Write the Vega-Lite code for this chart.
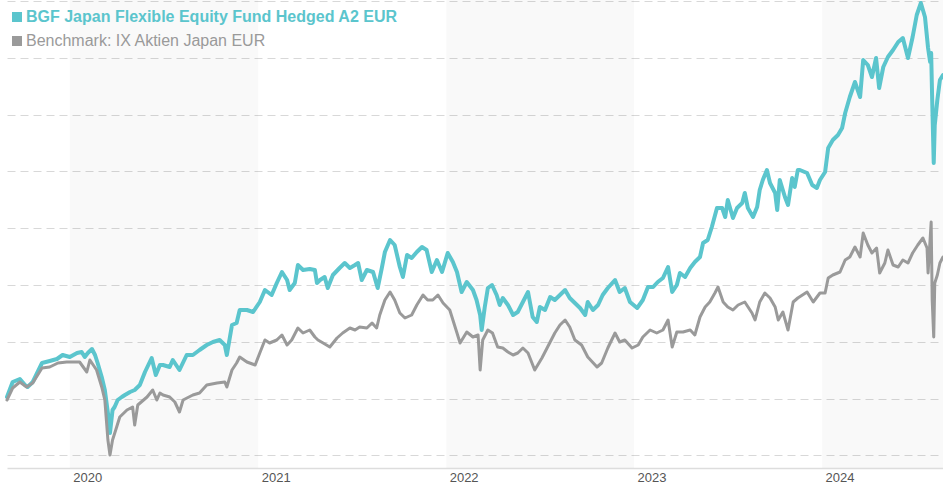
{
  "$schema": "https://vega.github.io/schema/vega-lite/v6.json",
  "width": 936,
  "height": 468,
  "autosize": {"type": "none"},
  "padding": {"left": 7, "top": 0, "right": 0, "bottom": 19},
  "background": "white",
  "config": {"view": {"stroke": null}, "font": "Liberation Sans"},
  "datasets": {
    "bands": [
      {"start": "2020-01-01", "end": "2021-01-01"},
      {"start": "2022-01-01", "end": "2023-01-01"},
      {"start": "2024-01-01", "end": "2025-01-01"}
    ],
    "fund": [
      {"d": "2019-09-01", "v": 71}, {"d": "2019-09-12", "v": 86}, {"d": "2019-09-26", "v": 89}, {"d": "2019-10-06", "v": 83},
      {"d": "2019-10-11", "v": 81}, {"d": "2019-10-21", "v": 86}, {"d": "2019-11-08", "v": 105}, {"d": "2019-11-23", "v": 107},
      {"d": "2019-12-07", "v": 109}, {"d": "2019-12-18", "v": 113}, {"d": "2020-01-01", "v": 111}, {"d": "2020-01-15", "v": 115},
      {"d": "2020-01-24", "v": 116}, {"d": "2020-01-30", "v": 111}, {"d": "2020-02-05", "v": 115}, {"d": "2020-02-13", "v": 119},
      {"d": "2020-02-19", "v": 113}, {"d": "2020-02-24", "v": 105}, {"d": "2020-03-03", "v": 91}, {"d": "2020-03-09", "v": 78},
      {"d": "2020-03-15", "v": 55}, {"d": "2020-03-19", "v": 35}, {"d": "2020-03-24", "v": 58}, {"d": "2020-03-28", "v": 61},
      {"d": "2020-04-03", "v": 68}, {"d": "2020-04-11", "v": 71}, {"d": "2020-04-17", "v": 73}, {"d": "2020-04-27", "v": 76},
      {"d": "2020-05-06", "v": 78}, {"d": "2020-05-16", "v": 83}, {"d": "2020-05-26", "v": 96}, {"d": "2020-06-08", "v": 110},
      {"d": "2020-06-16", "v": 93}, {"d": "2020-06-24", "v": 103}, {"d": "2020-06-30", "v": 103}, {"d": "2020-07-13", "v": 101},
      {"d": "2020-07-19", "v": 108}, {"d": "2020-08-01", "v": 98}, {"d": "2020-08-15", "v": 113}, {"d": "2020-08-27", "v": 113},
      {"d": "2020-09-09", "v": 118}, {"d": "2020-09-23", "v": 123}, {"d": "2020-10-05", "v": 126}, {"d": "2020-10-18", "v": 128},
      {"d": "2020-10-28", "v": 123}, {"d": "2020-11-01", "v": 113}, {"d": "2020-11-11", "v": 143}, {"d": "2020-11-20", "v": 145},
      {"d": "2020-11-26", "v": 158}, {"d": "2020-12-10", "v": 158}, {"d": "2020-12-22", "v": 156}, {"d": "2021-01-04", "v": 166},
      {"d": "2021-01-14", "v": 178}, {"d": "2021-01-27", "v": 173}, {"d": "2021-02-06", "v": 185}, {"d": "2021-02-16", "v": 196},
      {"d": "2021-02-26", "v": 188}, {"d": "2021-03-03", "v": 178}, {"d": "2021-03-13", "v": 185}, {"d": "2021-03-19", "v": 203},
      {"d": "2021-03-29", "v": 198}, {"d": "2021-04-11", "v": 199}, {"d": "2021-04-21", "v": 198}, {"d": "2021-04-25", "v": 185},
      {"d": "2021-05-01", "v": 188}, {"d": "2021-05-10", "v": 191}, {"d": "2021-05-16", "v": 180}, {"d": "2021-05-26", "v": 193},
      {"d": "2021-06-08", "v": 200}, {"d": "2021-06-18", "v": 205}, {"d": "2021-06-28", "v": 200}, {"d": "2021-07-08", "v": 203},
      {"d": "2021-07-14", "v": 205}, {"d": "2021-07-21", "v": 188}, {"d": "2021-07-31", "v": 198}, {"d": "2021-08-12", "v": 196},
      {"d": "2021-08-21", "v": 180}, {"d": "2021-08-29", "v": 200}, {"d": "2021-09-04", "v": 216}, {"d": "2021-09-14", "v": 228},
      {"d": "2021-09-23", "v": 223}, {"d": "2021-10-03", "v": 201}, {"d": "2021-10-09", "v": 191}, {"d": "2021-10-17", "v": 213},
      {"d": "2021-10-26", "v": 210}, {"d": "2021-11-05", "v": 216}, {"d": "2021-11-15", "v": 221}, {"d": "2021-11-24", "v": 218},
      {"d": "2021-12-04", "v": 196}, {"d": "2021-12-14", "v": 208}, {"d": "2021-12-24", "v": 196}, {"d": "2022-01-04", "v": 215},
      {"d": "2022-01-14", "v": 206}, {"d": "2022-01-22", "v": 196}, {"d": "2022-01-31", "v": 176}, {"d": "2022-02-10", "v": 186},
      {"d": "2022-02-22", "v": 178}, {"d": "2022-03-01", "v": 168}, {"d": "2022-03-08", "v": 153}, {"d": "2022-03-11", "v": 138},
      {"d": "2022-03-17", "v": 161}, {"d": "2022-03-23", "v": 180}, {"d": "2022-03-31", "v": 183}, {"d": "2022-04-09", "v": 173},
      {"d": "2022-04-15", "v": 163}, {"d": "2022-04-21", "v": 170}, {"d": "2022-05-01", "v": 163}, {"d": "2022-05-11", "v": 153},
      {"d": "2022-05-20", "v": 156}, {"d": "2022-05-30", "v": 166}, {"d": "2022-06-09", "v": 176}, {"d": "2022-06-18", "v": 151},
      {"d": "2022-06-26", "v": 146}, {"d": "2022-07-02", "v": 161}, {"d": "2022-07-12", "v": 158}, {"d": "2022-07-22", "v": 171},
      {"d": "2022-07-31", "v": 168}, {"d": "2022-08-10", "v": 173}, {"d": "2022-08-20", "v": 178}, {"d": "2022-08-29", "v": 170},
      {"d": "2022-09-08", "v": 165}, {"d": "2022-09-18", "v": 160}, {"d": "2022-09-28", "v": 153}, {"d": "2022-10-03", "v": 166},
      {"d": "2022-10-13", "v": 158}, {"d": "2022-10-23", "v": 163}, {"d": "2022-11-01", "v": 173}, {"d": "2022-11-11", "v": 180},
      {"d": "2022-11-25", "v": 188}, {"d": "2022-12-04", "v": 176}, {"d": "2022-12-14", "v": 180}, {"d": "2022-12-24", "v": 166},
      {"d": "2023-01-07", "v": 160}, {"d": "2023-01-18", "v": 168}, {"d": "2023-01-28", "v": 181}, {"d": "2023-02-07", "v": 181},
      {"d": "2023-02-16", "v": 186}, {"d": "2023-02-26", "v": 190}, {"d": "2023-03-08", "v": 201}, {"d": "2023-03-16", "v": 176},
      {"d": "2023-03-25", "v": 183}, {"d": "2023-03-31", "v": 195}, {"d": "2023-04-10", "v": 191}, {"d": "2023-04-20", "v": 200},
      {"d": "2023-04-29", "v": 206}, {"d": "2023-05-09", "v": 211}, {"d": "2023-05-15", "v": 225}, {"d": "2023-05-24", "v": 228},
      {"d": "2023-06-01", "v": 241}, {"d": "2023-06-11", "v": 260}, {"d": "2023-06-21", "v": 260}, {"d": "2023-06-27", "v": 251},
      {"d": "2023-07-02", "v": 268}, {"d": "2023-07-12", "v": 250}, {"d": "2023-07-20", "v": 260}, {"d": "2023-07-30", "v": 265},
      {"d": "2023-08-04", "v": 275}, {"d": "2023-08-10", "v": 260}, {"d": "2023-08-20", "v": 251}, {"d": "2023-08-28", "v": 261},
      {"d": "2023-09-02", "v": 278}, {"d": "2023-09-08", "v": 288}, {"d": "2023-09-16", "v": 298}, {"d": "2023-09-22", "v": 285},
      {"d": "2023-10-02", "v": 275}, {"d": "2023-10-06", "v": 258}, {"d": "2023-10-11", "v": 288}, {"d": "2023-10-21", "v": 271},
      {"d": "2023-10-27", "v": 263}, {"d": "2023-11-04", "v": 290}, {"d": "2023-11-09", "v": 281}, {"d": "2023-11-15", "v": 298},
      {"d": "2023-11-19", "v": 298}, {"d": "2023-12-03", "v": 295}, {"d": "2023-12-13", "v": 283}, {"d": "2023-12-22", "v": 280},
      {"d": "2023-12-28", "v": 288}, {"d": "2024-01-07", "v": 296}, {"d": "2024-01-13", "v": 320}, {"d": "2024-01-22", "v": 328},
      {"d": "2024-02-01", "v": 333}, {"d": "2024-02-09", "v": 340}, {"d": "2024-02-15", "v": 355}, {"d": "2024-02-24", "v": 371},
      {"d": "2024-03-05", "v": 386}, {"d": "2024-03-15", "v": 371}, {"d": "2024-03-21", "v": 408}, {"d": "2024-03-30", "v": 403},
      {"d": "2024-04-07", "v": 391}, {"d": "2024-04-15", "v": 410}, {"d": "2024-04-21", "v": 380}, {"d": "2024-04-29", "v": 401},
      {"d": "2024-05-08", "v": 411}, {"d": "2024-05-18", "v": 418}, {"d": "2024-05-28", "v": 426}, {"d": "2024-06-06", "v": 430},
      {"d": "2024-06-16", "v": 410}, {"d": "2024-06-25", "v": 431}, {"d": "2024-07-03", "v": 453}, {"d": "2024-07-11", "v": 465},
      {"d": "2024-07-19", "v": 451}, {"d": "2024-07-25", "v": 420}, {"d": "2024-07-29", "v": 406}, {"d": "2024-07-31", "v": 415},
      {"d": "2024-08-02", "v": 368}, {"d": "2024-08-05", "v": 305}, {"d": "2024-08-07", "v": 343}, {"d": "2024-08-12", "v": 368},
      {"d": "2024-08-17", "v": 388}, {"d": "2024-08-23", "v": 393}
    ],
    "bench": [
      {"d": "2019-09-01", "v": 68}, {"d": "2019-09-12", "v": 80}, {"d": "2019-09-26", "v": 86}, {"d": "2019-10-09", "v": 81},
      {"d": "2019-10-21", "v": 85}, {"d": "2019-11-08", "v": 100}, {"d": "2019-11-23", "v": 101}, {"d": "2019-12-09", "v": 105},
      {"d": "2019-12-26", "v": 106}, {"d": "2020-01-07", "v": 106}, {"d": "2020-01-20", "v": 106}, {"d": "2020-02-03", "v": 96},
      {"d": "2020-02-09", "v": 108}, {"d": "2020-02-22", "v": 98}, {"d": "2020-03-03", "v": 81}, {"d": "2020-03-09", "v": 68},
      {"d": "2020-03-15", "v": 28}, {"d": "2020-03-19", "v": 13}, {"d": "2020-03-24", "v": 28}, {"d": "2020-04-01", "v": 41},
      {"d": "2020-04-07", "v": 51}, {"d": "2020-04-21", "v": 58}, {"d": "2020-05-02", "v": 61}, {"d": "2020-05-06", "v": 43},
      {"d": "2020-05-12", "v": 63}, {"d": "2020-05-30", "v": 71}, {"d": "2020-06-10", "v": 78}, {"d": "2020-06-18", "v": 68},
      {"d": "2020-06-24", "v": 75}, {"d": "2020-06-30", "v": 73}, {"d": "2020-07-13", "v": 71}, {"d": "2020-07-23", "v": 66},
      {"d": "2020-08-01", "v": 56}, {"d": "2020-08-08", "v": 68}, {"d": "2020-08-27", "v": 73}, {"d": "2020-09-09", "v": 75},
      {"d": "2020-09-23", "v": 83}, {"d": "2020-10-13", "v": 85}, {"d": "2020-10-28", "v": 86}, {"d": "2020-11-01", "v": 81},
      {"d": "2020-11-11", "v": 98}, {"d": "2020-11-20", "v": 105}, {"d": "2020-11-26", "v": 111}, {"d": "2020-12-10", "v": 106},
      {"d": "2020-12-26", "v": 103}, {"d": "2021-01-04", "v": 115}, {"d": "2021-01-14", "v": 128}, {"d": "2021-01-23", "v": 125},
      {"d": "2021-02-06", "v": 128}, {"d": "2021-02-16", "v": 133}, {"d": "2021-02-26", "v": 123}, {"d": "2021-03-07", "v": 128},
      {"d": "2021-03-19", "v": 140}, {"d": "2021-03-29", "v": 135}, {"d": "2021-04-11", "v": 138}, {"d": "2021-04-21", "v": 131},
      {"d": "2021-04-27", "v": 128}, {"d": "2021-05-07", "v": 125}, {"d": "2021-05-20", "v": 121}, {"d": "2021-06-03", "v": 130},
      {"d": "2021-06-14", "v": 135}, {"d": "2021-06-28", "v": 140}, {"d": "2021-07-08", "v": 138}, {"d": "2021-07-17", "v": 141},
      {"d": "2021-07-31", "v": 140}, {"d": "2021-08-10", "v": 145}, {"d": "2021-08-19", "v": 140}, {"d": "2021-08-25", "v": 153},
      {"d": "2021-09-04", "v": 168}, {"d": "2021-09-14", "v": 176}, {"d": "2021-09-23", "v": 168}, {"d": "2021-10-03", "v": 155},
      {"d": "2021-10-13", "v": 150}, {"d": "2021-10-26", "v": 153}, {"d": "2021-11-05", "v": 163}, {"d": "2021-11-17", "v": 173},
      {"d": "2021-11-26", "v": 168}, {"d": "2021-12-06", "v": 168}, {"d": "2021-12-16", "v": 173}, {"d": "2021-12-26", "v": 165},
      {"d": "2022-01-08", "v": 158}, {"d": "2022-01-22", "v": 135}, {"d": "2022-01-28", "v": 125}, {"d": "2022-02-10", "v": 136},
      {"d": "2022-02-22", "v": 131}, {"d": "2022-03-04", "v": 133}, {"d": "2022-03-08", "v": 98}, {"d": "2022-03-13", "v": 128},
      {"d": "2022-03-23", "v": 138}, {"d": "2022-04-01", "v": 135}, {"d": "2022-04-11", "v": 121}, {"d": "2022-04-21", "v": 120},
      {"d": "2022-05-01", "v": 116}, {"d": "2022-05-11", "v": 113}, {"d": "2022-05-20", "v": 115}, {"d": "2022-05-30", "v": 120},
      {"d": "2022-06-09", "v": 115}, {"d": "2022-06-22", "v": 98}, {"d": "2022-07-06", "v": 110}, {"d": "2022-07-17", "v": 121},
      {"d": "2022-07-31", "v": 135}, {"d": "2022-08-10", "v": 143}, {"d": "2022-08-20", "v": 148}, {"d": "2022-08-29", "v": 141},
      {"d": "2022-09-08", "v": 128}, {"d": "2022-09-21", "v": 123}, {"d": "2022-10-03", "v": 111}, {"d": "2022-10-21", "v": 101},
      {"d": "2022-10-30", "v": 105}, {"d": "2022-11-11", "v": 120}, {"d": "2022-11-25", "v": 135}, {"d": "2022-12-04", "v": 126},
      {"d": "2022-12-14", "v": 128}, {"d": "2022-12-28", "v": 120}, {"d": "2023-01-09", "v": 123}, {"d": "2023-01-18", "v": 131},
      {"d": "2023-02-01", "v": 138}, {"d": "2023-02-14", "v": 135}, {"d": "2023-02-26", "v": 138}, {"d": "2023-03-08", "v": 148},
      {"d": "2023-03-16", "v": 121}, {"d": "2023-03-25", "v": 136}, {"d": "2023-04-06", "v": 136}, {"d": "2023-04-20", "v": 138},
      {"d": "2023-04-29", "v": 133}, {"d": "2023-05-09", "v": 151}, {"d": "2023-05-19", "v": 161}, {"d": "2023-05-28", "v": 166},
      {"d": "2023-06-07", "v": 175}, {"d": "2023-06-13", "v": 181}, {"d": "2023-06-23", "v": 166}, {"d": "2023-07-02", "v": 161},
      {"d": "2023-07-12", "v": 158}, {"d": "2023-07-22", "v": 163}, {"d": "2023-08-04", "v": 166}, {"d": "2023-08-18", "v": 155},
      {"d": "2023-08-24", "v": 148}, {"d": "2023-09-02", "v": 166}, {"d": "2023-09-12", "v": 175}, {"d": "2023-09-22", "v": 170},
      {"d": "2023-10-02", "v": 161}, {"d": "2023-10-08", "v": 148}, {"d": "2023-10-17", "v": 156}, {"d": "2023-10-27", "v": 138},
      {"d": "2023-11-06", "v": 166}, {"d": "2023-11-15", "v": 170}, {"d": "2023-12-03", "v": 176}, {"d": "2023-12-15", "v": 166},
      {"d": "2023-12-28", "v": 175}, {"d": "2024-01-07", "v": 175}, {"d": "2024-01-13", "v": 190}, {"d": "2024-01-22", "v": 193},
      {"d": "2024-02-05", "v": 196}, {"d": "2024-02-15", "v": 208}, {"d": "2024-02-24", "v": 211}, {"d": "2024-03-05", "v": 221},
      {"d": "2024-03-15", "v": 211}, {"d": "2024-03-21", "v": 235}, {"d": "2024-03-30", "v": 223}, {"d": "2024-04-07", "v": 215},
      {"d": "2024-04-16", "v": 220}, {"d": "2024-04-22", "v": 195}, {"d": "2024-05-02", "v": 205}, {"d": "2024-05-08", "v": 218},
      {"d": "2024-05-18", "v": 203}, {"d": "2024-05-28", "v": 201}, {"d": "2024-06-06", "v": 208}, {"d": "2024-06-16", "v": 205},
      {"d": "2024-06-25", "v": 215}, {"d": "2024-07-05", "v": 223}, {"d": "2024-07-15", "v": 230}, {"d": "2024-07-23", "v": 220},
      {"d": "2024-07-25", "v": 195}, {"d": "2024-07-31", "v": 246}, {"d": "2024-08-02", "v": 168}, {"d": "2024-08-05", "v": 131},
      {"d": "2024-08-07", "v": 185}, {"d": "2024-08-12", "v": 193}, {"d": "2024-08-17", "v": 205}, {"d": "2024-08-23", "v": 211}
    ]
  },
  "layer": [
    {
      "data": {"name": "bands"},
      "mark": {"type": "rect", "fill": "#000000", "fillOpacity": 0.025, "clip": true},
      "encoding": {
        "x": {
          "field": "start", "type": "temporal",
          "scale": {"type": "utc", "domain": [{"year": 2019, "month": 9, "date": 1, "utc": true}, {"year": 2024, "month": 8, "date": 23, "utc": true}]},
          "axis": {
            "title": null, "grid": false, "ticks": false,
            "values": [{"year": 2020, "utc": true}, {"year": 2021, "utc": true}, {"year": 2022, "utc": true}, {"year": 2023, "utc": true}, {"year": 2024, "utc": true}],
            "format": "%Y", "labelAlign": "left", "labelOffset": 3, "labelPadding": 3,
            "labelFontSize": 13, "labelColor": "#555555", "labelFont": "Liberation Sans",
            "domainColor": "#dddddd", "domainWidth": 1.5
          }
        },
        "x2": {"field": "end"}
      }
    },
    {
      "data": {"name": "fund"},
      "mark": {"type": "line", "strokeWidth": 4, "strokeJoin": "round", "strokeCap": "round"},
      "encoding": {
        "x": {"field": "d", "type": "temporal"},
        "y": {
          "field": "v", "type": "quantitative",
          "scale": {"domain": [0, 468], "nice": false, "zero": false},
          "axis": {
            "title": null, "labels": false, "ticks": false, "domain": false,
            "grid": true, "gridColor": "#d8d8d8", "gridDash": [8, 5], "gridWidth": 1,
            "values": [12.6, 41, 69.4, 97.8, 126.2, 154.6, 183, 211.4, 239.8, 268.2, 296.6, 325, 353.4, 381.8, 410.2, 438.6, 467]
          }
        },
        "color": {
          "datum": "BGF Japan Flexible Equity Fund Hedged A2 EUR",
          "scale": {"range": ["#5bc5cd"]},
          "legend": {
            "orient": "none", "legendX": 2, "legendY": 9, "title": null, "padding": 0,
            "symbolType": "square", "symbolSize": 100, "symbolFillColor": "#5bc5cd", "symbolStrokeColor": "#5bc5cd", "symbolStrokeWidth": 0,
            "labelColor": "#5bc5cd", "labelFontWeight": "bold", "labelFontSize": 16, "labelFont": "Liberation Sans", "labelOffset": 1, "labelLimit": 600
          }
        }
      }
    },
    {
      "data": {"name": "bench"},
      "mark": {"type": "line", "strokeWidth": 3, "strokeJoin": "round", "strokeCap": "round"},
      "encoding": {
        "x": {"field": "d", "type": "temporal"},
        "y": {"field": "v", "type": "quantitative"},
        "color": {
          "datum": "Benchmark: IX Aktien Japan EUR",
          "scale": {"range": ["#9a9a9a"]},
          "legend": {
            "orient": "none", "legendX": 2, "legendY": 33, "title": null, "padding": 0,
            "symbolType": "square", "symbolSize": 100, "symbolFillColor": "#9a9a9a", "symbolStrokeColor": "#9a9a9a", "symbolStrokeWidth": 0,
            "labelColor": "#9a9a9a", "labelFontSize": 16, "labelFont": "Liberation Sans", "labelOffset": 1, "labelLimit": 600
          }
        }
      }
    }
  ],
  "resolve": {"scale": {"color": "independent"}, "legend": {"color": "independent"}}
}
